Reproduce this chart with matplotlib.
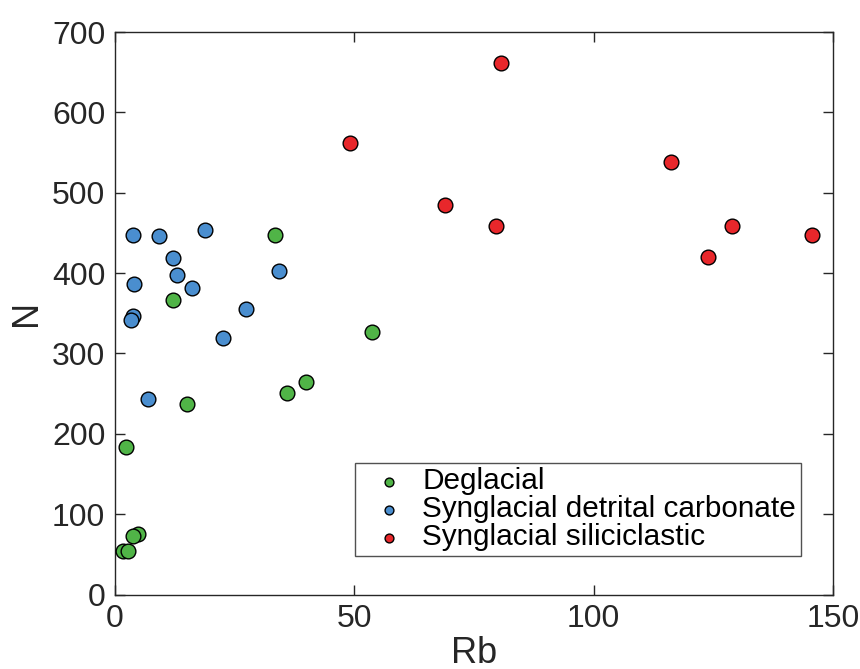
import numpy as np
import matplotlib
matplotlib.use("Agg")
import matplotlib.pyplot as plt

plt.rcParams["font.family"] = ["Liberation Sans", "DejaVu Sans"]

# Deglacial
rb_deg = [2.4, 1.7, 2.8, 4.8, 3.8, 12.2, 15.0, 33.5, 36.0, 39.8, 53.6]
n_deg = [183, 54, 54, 75, 73, 367, 237, 448, 251, 265, 327]

# Synglacial detrital carbonate
rb_dc = [3.7, 9.2, 18.8, 12.2, 12.9, 4.0, 16.1, 3.7, 3.3, 27.4, 22.6, 6.8, 34.3]
n_dc = [448, 446, 454, 419, 398, 386, 382, 346, 341, 355, 319, 243, 402]

# Synglacial siliciclastic
rb_sc = [49.1, 80.7, 69.0, 79.6, 116.1, 128.8, 145.6, 123.9]
n_sc = [562, 662, 485, 458, 538, 458, 447, 420]

colors = ["#50b447", "#4a8ecf", "#e8272b"]
labels = ["Deglacial", "Synglacial detrital carbonate", "Synglacial siliciclastic"]

fig = plt.figure(figsize=(8.6, 6.69), dpi=100)
ax = fig.add_axes([115 / 860, 1 - 594.5 / 669, (833 - 115) / 860, (594.5 - 32) / 669])

for xs, ys, c, lab in zip([rb_deg, rb_dc, rb_sc], [n_deg, n_dc, n_sc], colors, labels):
    ax.scatter(xs, ys, s=112, c=c, edgecolors="black", linewidths=1.0, label=lab, zorder=3)

ax.set_xlim(0, 150)
ax.set_ylim(0, 700)
ax.set_xticks([0, 50, 100, 150])
ax.set_yticks(range(0, 701, 100))
ax.tick_params(direction="in", top=True, right=True, length=7, width=1.0,
               labelsize=23, colors="#262626", pad=7)
for sp in ax.spines.values():
    sp.set_linewidth(1.0)
    sp.set_color("#262626")

ax.set_xlabel("Rb", fontsize=26, color="#262626", labelpad=1)
ax.set_ylabel("N", fontsize=26, color="#262626", labelpad=6)

leg = ax.legend(loc="upper left", bbox_to_anchor=((355 - 115) / 718, (594.5 - 463) / 562.5),
                fontsize=21.4, markerscale=0.6, frameon=True, fancybox=False,
                handletextpad=0.12, borderpad=0.15, labelspacing=0.0, handlelength=2.0,
                borderaxespad=0)
leg.get_frame().set_edgecolor("#262626")
leg.get_frame().set_linewidth(1.0)

fig.savefig("out.png", dpi=100)
